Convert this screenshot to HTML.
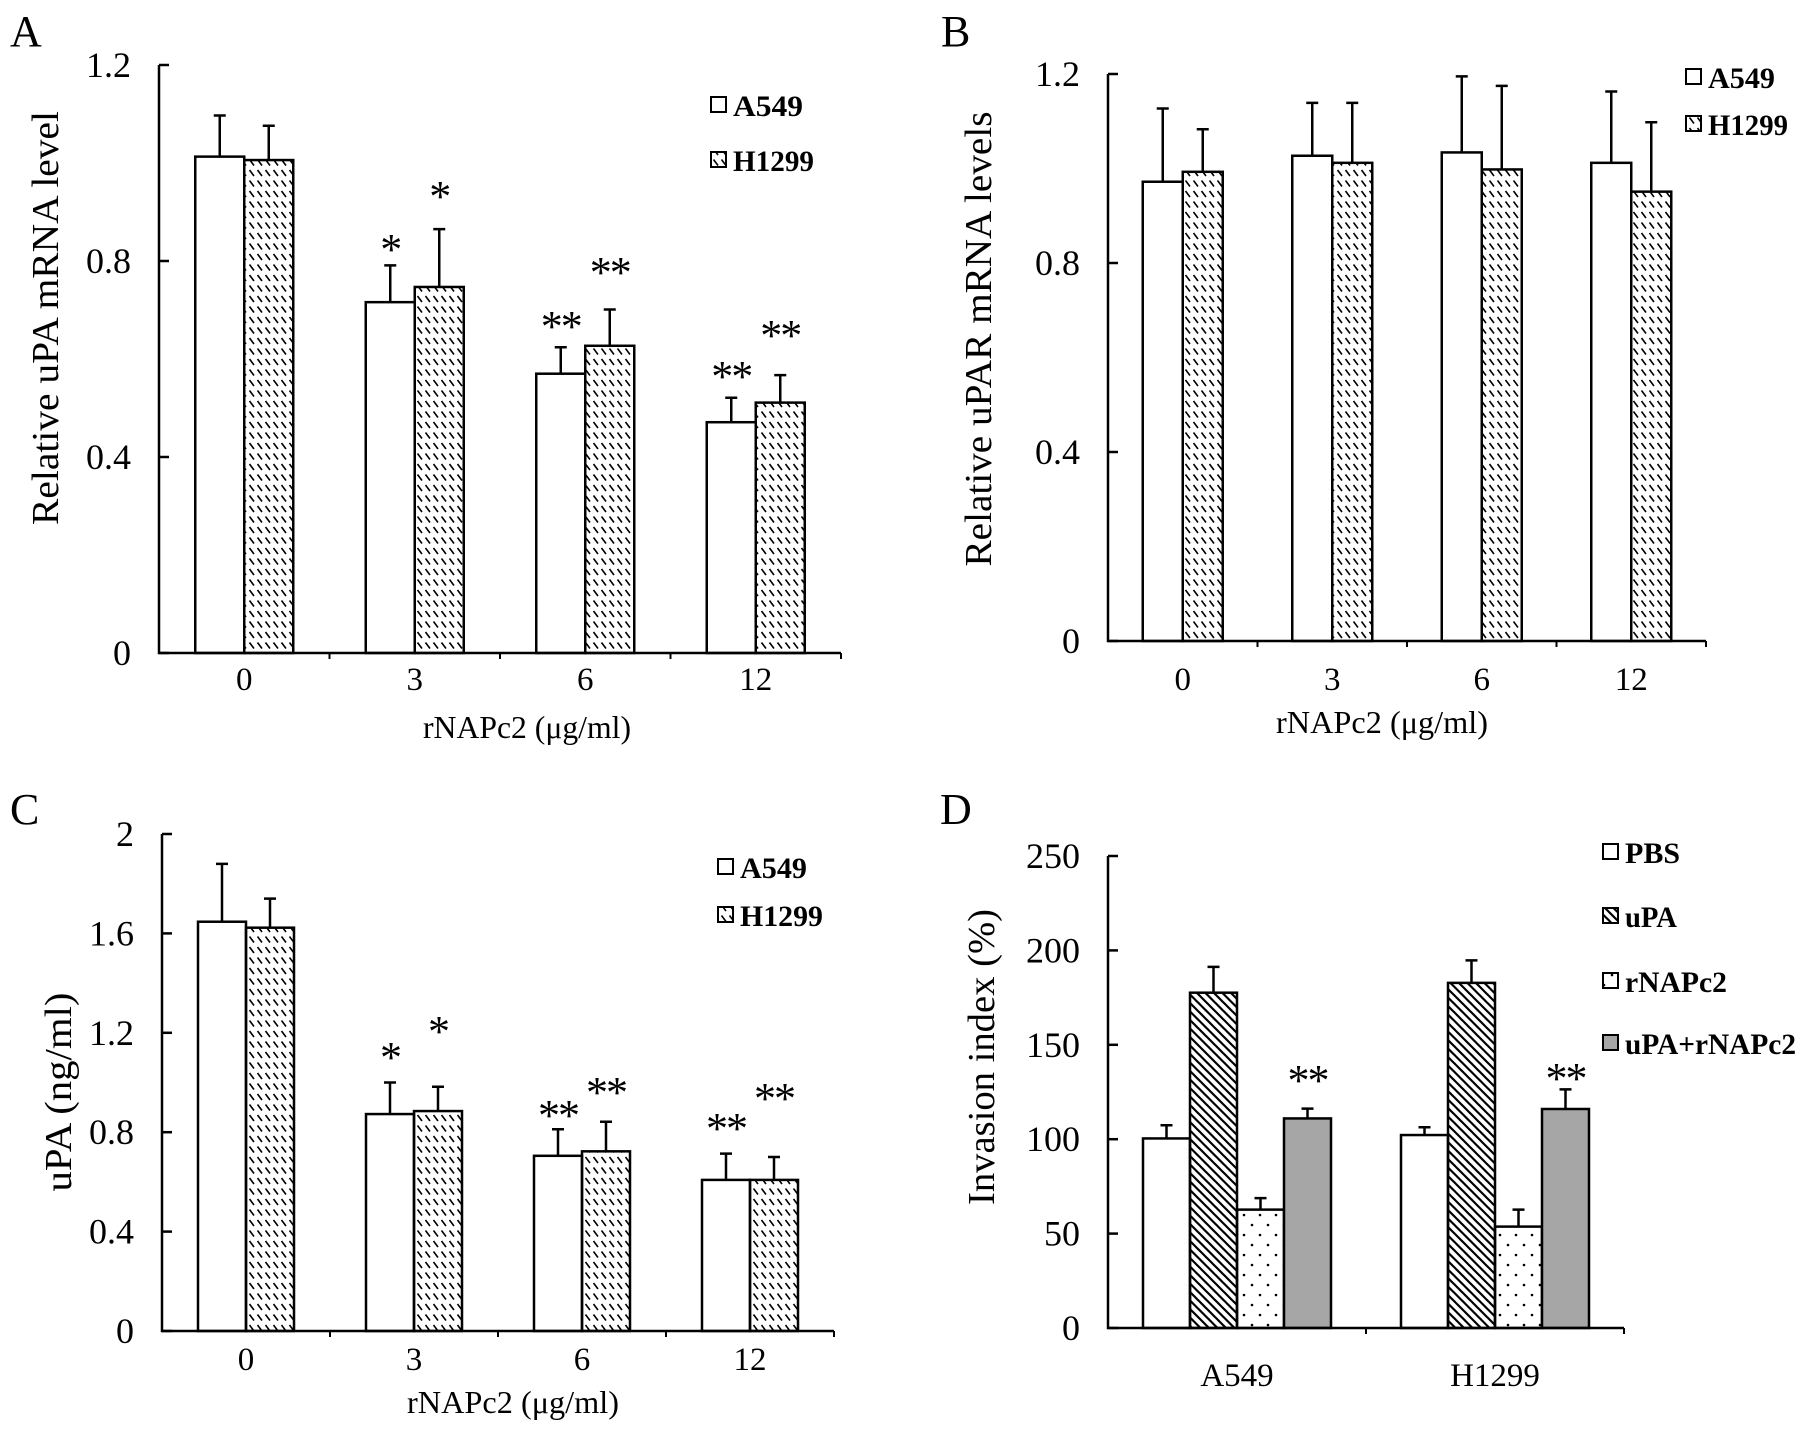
<!DOCTYPE html>
<html><head><meta charset="utf-8"><style>
html,body{margin:0;padding:0;background:#fff;}
svg, svg text{font-family:"Liberation Serif","Times New Roman",serif;}
</style></head><body>
<svg id="fig" width="1795" height="1429" viewBox="0 0 1795 1429" xmlns="http://www.w3.org/2000/svg">
<defs>
<pattern id="dash" patternUnits="userSpaceOnUse" width="8" height="10.5">
<line x1="1.5" y1="2" x2="6" y2="8" stroke="#000" stroke-width="1.6"/>
</pattern>
<pattern id="diag" patternUnits="userSpaceOnUse" width="8.5" height="8.5">
<line x1="-2" y1="-2" x2="10.5" y2="10.5" stroke="#000" stroke-width="2.2"/>
<line x1="-10.5" y1="-2" x2="2" y2="10.5" stroke="#000" stroke-width="2.2"/>
<line x1="6.5" y1="-2" x2="19" y2="10.5" stroke="#000" stroke-width="2.2"/>
</pattern>
<pattern id="dots" patternUnits="userSpaceOnUse" width="16" height="20">
<circle cx="4" cy="5" r="1.3" fill="#000"/>
<circle cx="12" cy="15" r="1.3" fill="#000"/>
</pattern>
</defs>
</svg>
<script>
// ---- Panel A data ----
const catsA = ["0","3","6","12"];
const aA549 = [1.013,0.716,0.570,0.471];
const aA549Err = [0.084,0.075,0.054,0.050];
const aH1299 = [1.006,0.747,0.627,0.511];
const aH1299Err = [0.070,0.118,0.074,0.056];
const aStarA549 = ["","*","**","**"];
const aStarH1299 = ["","*","**","**"];
const aStarLevelA549 = [0,0.839,0.682,0.580];
const aStarLevelH1299 = [0,0.947,0.792,0.663];
const aTicks = [0,0.4,0.8,1.2];
const aTickLabels = ["0","0.4","0.8","1.2"];
// ---- Panel B data ----
const catsB = ["0","3","6","12"];
const bA549 = [0.972,1.027,1.034,1.012];
const bA549Err = [0.155,0.112,0.161,0.151];
const bH1299 = [0.993,1.012,0.998,0.951];
const bH1299Err = [0.090,0.127,0.177,0.147];
const bTicks = [0,0.4,0.8,1.2];
const bTickLabels = ["0","0.4","0.8","1.2"];
// ---- Panel C data ----
const catsC = ["0","3","6","12"];
const cA549 = [1.647,0.873,0.705,0.608];
const cA549Err = [0.233,0.127,0.107,0.106];
const cH1299 = [1.623,0.885,0.723,0.608];
const cH1299Err = [0.117,0.098,0.119,0.092];
const cStarA549 = ["","*","**","**"];
const cStarH1299 = ["","*","**","**"];
const cStarLevelA549 = [0,1.13,0.897,0.845];
const cStarLevelH1299 = [0,1.235,0.99,0.966];
const cTicks = [0,0.4,0.8,1.2,1.6,2];
const cTickLabels = ["0","0.4","0.8","1.2","1.6","2"];
// ---- Panel D data ----
const catsD = ["A549","H1299"];
const dPBS = [100.4,102.2];
const dPBSErr = [7.0,4.1];
const dUPA = [177.6,182.8];
const dUPAErr = [13.7,11.9];
const dRNAP = [62.7,53.7];
const dRNAPErr = [6.1,9.0];
const dCombo = [111,116];
const dComboErr = [5.2,10.4];
const dStars = ["**","**"];
const dStarLevel = [135,136];
const dTicks = [0,50,100,150,200,250];
const dTickLabels = ["0","50","100","150","200","250"];

const NS="http://www.w3.org/2000/svg";
const svg=document.getElementById('fig');
function mk(tag,attrs,parent){const e=document.createElementNS(NS,tag);for(const k in attrs)e.setAttribute(k,attrs[k]);(parent||svg).appendChild(e);return e;}
function txt(s,attrs,parent){attrs['font-family']='Liberation Serif, serif';const e=mk('text',attrs,parent);e.textContent=s;return e;}

function panel(p){
  const g=mk('g',{});
  
  
  const yS=v=>p.y0-(v-p.vmin)/(p.vmax-p.vmin)*(p.y0-p.ytop);
  const cw=(p.xEnd-p.x0)/p.cats.length;
  const xC=i=>p.x0+cw*(i+0.5);
  p.series.forEach((s,si)=>{
    s.vals.forEach((v,i)=>{
      const left=xC(i)-p.bw*p.series.length/2+si*p.bw;
      const top=yS(v);
      const r=mk('rect',{x:left,y:top,width:p.bw,height:p.y0-top,fill:s.fill,stroke:'#000','stroke-width':2.5},g);
      
      
      const cx=left+p.bw/2, et=yS(v+s.err[i]);
      const eb=mk('path',{d:`M${cx},${top}V${et}M${cx-6},${et}H${cx+6}`,stroke:'#000','stroke-width':2.5,fill:'none'},g);
      
      
      if(s.stars && s.stars[i]){
        const st=txt(s.stars[i],{x:cx,y:yS(s.starLv[i])+22,'text-anchor':'middle','font-size':44,'letter-spacing':-2},g);
        
        
      }
    });
  });
  const ax=mk('path',{d:`M${p.x0},${p.ytop}V${p.y0}H${p.xEnd}`,stroke:'#000','stroke-width':2.5,fill:'none'},g);
  
  
  for(let i=1;i<=p.cats.length;i++){
    const x=p.x0+cw*i;
    mk('line',{x1:x,y1:p.y0,x2:x,y2:p.y0+6,stroke:'#000','stroke-width':2},g);
  }
  p.ticks.forEach((t,i)=>{
    const y=yS(t);
    mk('line',{x1:p.x0,y1:y,x2:p.x0+10,y2:y,stroke:'#000','stroke-width':2.5},g);
    const tl=txt(p.tickLabels[i],{x:p.x0-28,y:y+12,'text-anchor':'end','font-size':36},g);
    
    
  });
  p.cats.forEach((c,i)=>{
    const tl=txt(c,{x:xC(i),y:p.xLabY,'text-anchor':'middle','font-size':33},g);
    
    
  });
  if(p.xTitle){
    const xt=txt(p.xTitle,{x:p.xTitleX,y:p.xTitleY,'text-anchor':'middle','font-size':32,textLength:p.xTitleLen,lengthAdjust:'spacingAndGlyphs'},g);
    
    
  }
  const yt=txt(p.yTitle,{x:0,y:0,'text-anchor':'middle','font-size':38,textLength:p.yTitleLen,lengthAdjust:'spacingAndGlyphs',transform:`translate(${p.yTitleX},${p.yTitleY}) rotate(-90)`},g);
  
  
  const pl=txt(p.letter,{x:p.letterX,y:p.letterY,'font-size':44},g);
  
  
  p.series.forEach((s,si)=>{
    const le=mk('g',{},g);
    
    
    const ly=p.legY[si];
    mk('rect',{x:p.legX,y:ly-8,width:15,height:15,fill:s.fill,stroke:'#000','stroke-width':2},le);
    txt(s.label,{x:p.legX+22,y:ly+11,'font-size':30,'font-weight':'bold',textLength:s.legLen,lengthAdjust:'spacingAndGlyphs'},le);
  });
}

panel({name:'panel-a-upa-mrna',letter:'A',letterX:10,letterY:46,cats:catsA,x0:159,xEnd:841,ytop:65,y0:653,vmin:0,vmax:1.2,bw:49,
  ticks:aTicks,tickLabels:aTickLabels,xLabY:690,xTitle:'rNAPc2 (μg/ml)',xTitleX:527,xTitleY:738,xTitleLen:208,
  yTitle:'Relative uPA mRNA level',yTitleX:58,yTitleY:318,yTitleLen:414,legX:711,legY:[105,160],
  series:[{key:'a549',label:'A549',legLen:70,fill:'#fff',vals:aA549,err:aA549Err,stars:aStarA549,starLv:aStarLevelA549},
          {key:'h1299',label:'H1299',legLen:81,fill:'url(#dash)',vals:aH1299,err:aH1299Err,stars:aStarH1299,starLv:aStarLevelH1299}]});

panel({name:'panel-b-upar-mrna',letter:'B',letterX:941,letterY:46,cats:catsB,x0:1108,xEnd:1706,ytop:74,y0:641,vmin:0,vmax:1.2,bw:40,
  ticks:bTicks,tickLabels:bTickLabels,xLabY:690,xTitle:'rNAPc2 (μg/ml)',xTitleX:1382,xTitleY:733,xTitleLen:212,
  yTitle:'Relative uPAR mRNA levels',yTitleX:991,yTitleY:339,yTitleLen:455,legX:1686,legY:[77,124],
  series:[{key:'a549',label:'A549',legLen:67,fill:'#fff',vals:bA549,err:bA549Err},
          {key:'h1299',label:'H1299',legLen:80,fill:'url(#dash)',vals:bH1299,err:bH1299Err}]});

panel({name:'panel-c-upa-protein',letter:'C',letterX:10,letterY:824,cats:catsC,x0:162,xEnd:834,ytop:834,y0:1331,vmin:0,vmax:2,bw:48,
  ticks:cTicks,tickLabels:cTickLabels,xLabY:1370,xTitle:'rNAPc2 (μg/ml)',xTitleX:513,xTitleY:1413,xTitleLen:212,
  yTitle:'uPA (ng/ml)',yTitleX:71,yTitleY:1092,yTitleLen:199,legX:718,legY:[867,915],
  series:[{key:'a549',label:'A549',legLen:67,fill:'#fff',vals:cA549,err:cA549Err,stars:cStarA549,starLv:cStarLevelA549},
          {key:'h1299',label:'H1299',legLen:83,fill:'url(#dash)',vals:cH1299,err:cH1299Err,stars:cStarH1299,starLv:cStarLevelH1299}]});

panel({name:'panel-d-invasion',letter:'D',letterX:940,letterY:824,cats:catsD,x0:1108,xEnd:1624,ytop:856,y0:1328,vmin:0,vmax:250,bw:47,
  ticks:dTicks,tickLabels:dTickLabels,xLabY:1386,xTitle:null,
  yTitle:'Invasion index (%)',yTitleX:994,yTitleY:1057,yTitleLen:296,legX:1603,legY:[852,916,981,1043],
  series:[{key:'pbs',label:'PBS',legLen:55,fill:'#fff',vals:dPBS,err:dPBSErr},
          {key:'upa',label:'uPA',legLen:52,fill:'url(#diag)',vals:dUPA,err:dUPAErr},
          {key:'rnapc2',label:'rNAPc2',legLen:102,fill:'url(#dots)',vals:dRNAP,err:dRNAPErr},
          {key:'upa-rnapc2',label:'uPA+rNAPc2',legLen:171,fill:'#a6a6a6',vals:dCombo,err:dComboErr,stars:dStars,starLv:dStarLevel}]});
</script>
</body></html>
